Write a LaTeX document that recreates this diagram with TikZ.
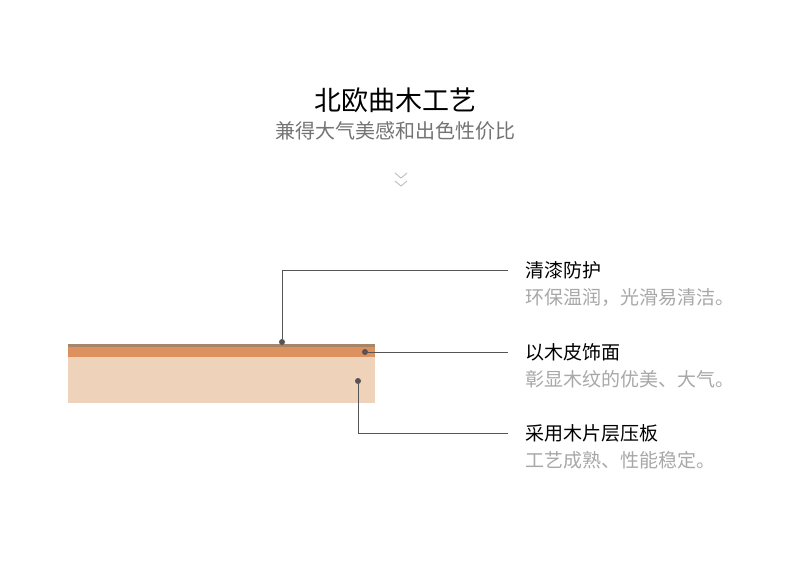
\documentclass[tikz,border=0pt]{standalone}
\usepackage{fontspec}
\setmainfont{Noto Sans CJK SC}
\usetikzlibrary{positioning}
\definecolor{linegray}{HTML}{555555}
\definecolor{dotgray}{HTML}{5B5353}
\definecolor{subgray}{HTML}{747474}
\definecolor{descgray}{HTML}{A8A8A8}
\definecolor{varnish}{HTML}{A68569}
\definecolor{veneer}{HTML}{DD915F}
\definecolor{plywood}{HTML}{EED2BA}

\begin{document}
\begin{tikzpicture}[
  x=1pt, y=-1pt,
  head/.style={inner sep=0pt, anchor=west, text=black,
               font=\fontsize{19}{22}\selectfont},
  desc/.style={inner sep=0pt, text=descgray,
               font=\fontsize{19}{22}\selectfont},
  dot/.style={circle, fill=dotgray, inner sep=0pt, minimum size=6pt},
  lead/.style={draw=linegray, line width=0.9pt, shorten >=17pt},
  node distance=9pt
]
\useasboundingbox[fill=white] (0,0) rectangle (790,573);
% header
\node[inner sep=0pt, font=\fontsize{27}{31}\selectfont] (title) at (395,100) {北欧曲木工艺};
\node[inner sep=0pt, text=subgray, font=\fontsize{20}{24}\selectfont] (sub) at (395,131) {兼得大气美感和出色性价比};
\draw[black!25, line width=0.9pt] (395,173) -- (401,178) -- (407,173);
\draw[black!25, line width=0.9pt] (395,181) -- (401,186) -- (407,181);
% board layers
\fill[plywood] (68,357) rectangle (375,403);
\fill[veneer] (68,347) rectangle (375,357);
\fill[varnish] (68,344) rectangle (375,347);
% markers
\node[dot] (d1) at (282,342) {};
\node[dot] (d2) at (365,352) {};
\node[dot] (d3) at (358,381) {};
% labels
\node[head] (lab1) at (525,270) {清漆防护};
\node[desc, below=of lab1.south west, anchor=north west] (txt1) {环保温润，光滑易清洁。};
\node[head] (lab2) at (525,352) {以木皮饰面};
\node[desc, below=of lab2.south west, anchor=north west] (txt2) {彰显木纹的优美、大气。};
\node[head] (lab3) at (525,433) {采用木片层压板};
\node[desc, below=of lab3.south west, anchor=north west] (txt3) {工艺成熟、性能稳定。};
% leaders
\draw[lead] (d1) |- (lab1.west);
\draw[lead] (d2) -- (lab2.west);
\draw[lead] (d3) |- (lab3.west);
\end{tikzpicture}
\end{document}
